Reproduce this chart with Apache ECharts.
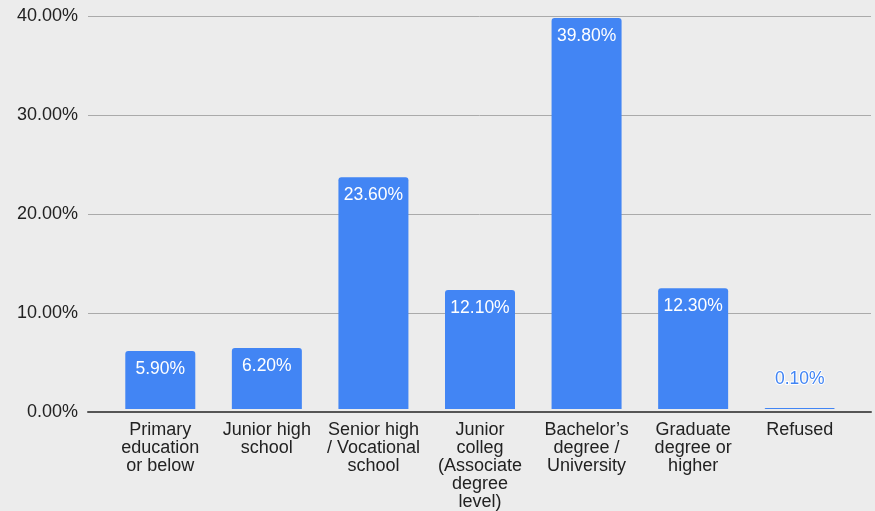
<!DOCTYPE html>
<html>
<head>
<meta charset="utf-8">
<script src="https://cdn.jsdelivr.net/npm/echarts@6/dist/echarts.min.js"></script>
<style>
html,body{margin:0;padding:0;background:#ececec;}
#chart{width:875px;height:511px;}
</style>
</head>
<body>
<div id="chart"></div>
<script>
const categories = [
  "Primary\neducation\nor below",
  "Junior high\nschool",
  "Senior high\n/ Vocational\nschool",
  "Junior\ncolleg\n(Associate\ndegree\nlevel)",
  "Bachelor\u2019s\ndegree /\nUniversity",
  "Graduate\ndegree or\nhigher",
  "Refused"
];
const values = [5.9, 6.2, 23.6, 12.1, 39.8, 12.3, 0.1];
const yTicks = [0, 10, 20, 30, 40];

const FONT = "'Liberation Sans', Arial, sans-serif";
const chart = echarts.init(document.getElementById('chart'));
const yMin = yTicks[0], yMax = yTicks[yTicks.length - 1], yStep = yTicks[1] - yTicks[0];

chart.setOption({
  backgroundColor: '#ececec',
  animation: false,
  grid: [
    { left: 107, right: 22, top: 16, bottom: 99 },
    { left: 88, right: 4, top: 16, bottom: 99 }
  ],
  xAxis: [
    {
      type: 'category', gridIndex: 0, data: categories,
      axisLine: { show: false }, axisTick: { show: false },
      axisLabel: { interval: 0, color: '#222', fontFamily: FONT, fontSize: 18, lineHeight: 18, margin: 12 }
    },
    {
      type: 'value', gridIndex: 1, min: 0, max: 1,
      axisLine: { show: true, lineStyle: { color: '#555', width: 2 } },
      axisTick: { show: false }, axisLabel: { show: false }, splitLine: { show: false }
    }
  ],
  yAxis: [
    {
      type: 'value', gridIndex: 0, min: yMin, max: yMax, interval: yStep,
      axisLine: { show: false }, axisTick: { show: false }, axisLabel: { show: false }, splitLine: { show: false }
    },
    {
      type: 'value', gridIndex: 1, min: yMin, max: yMax, interval: yStep,
      axisLine: { show: false }, axisTick: { show: false },
      axisLabel: { color: '#222', fontFamily: FONT, fontSize: 18, margin: 10, formatter: v => v.toFixed(2) + '%' },
      splitLine: { lineStyle: { color: '#aaa', width: 1 } }
    }
  ],
  series: [{
    type: 'bar', xAxisIndex: 0, yAxisIndex: 0,
    barWidth: 70,
    itemStyle: { color: '#4285f4', borderRadius: [3, 3, 0, 0] },
    data: values.map(v => v < 1 ? {
      value: v,
      label: { position: 'top', distance: 20, color: '#4285f4', textBorderColor: '#fff', textBorderWidth: 2 }
    } : v),
    label: {
      show: true, position: 'insideTop', distance: 9, color: '#fff',
      fontFamily: FONT, fontSize: 17.5,
      formatter: p => p.value.toFixed(2) + '%'
    },
    z: 3
  }]
});
</script>
</body>
</html>
